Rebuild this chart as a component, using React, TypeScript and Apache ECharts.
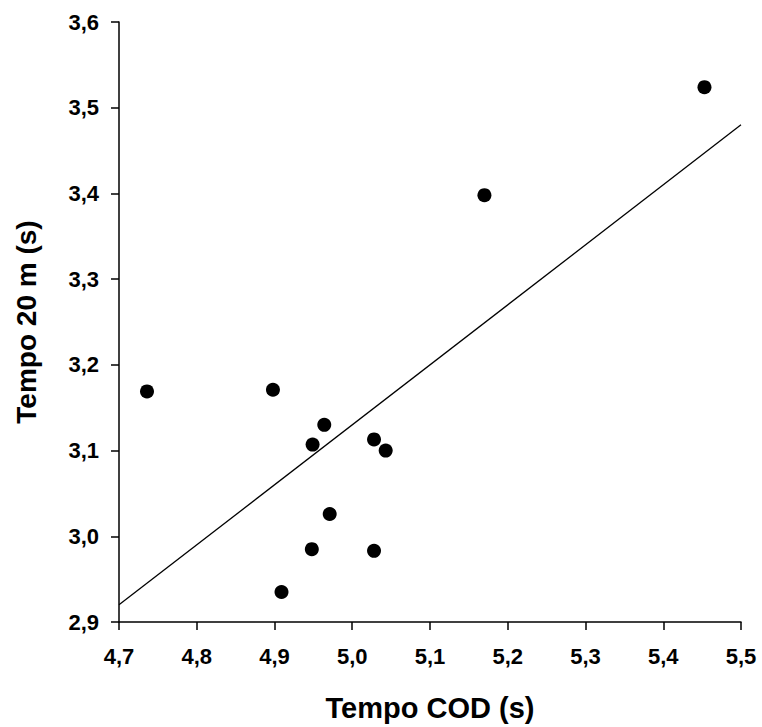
import React, { useEffect, useRef } from "react";
import * as echarts from "echarts";

const tempoCOD = [4.736, 4.898, 4.964, 4.949, 5.028, 5.043, 4.971, 4.948, 5.028, 4.909, 5.17, 5.453];
const tempo20m = [3.169, 3.171, 3.13, 3.107, 3.113, 3.1, 3.026, 2.985, 2.983, 2.935, 3.398, 3.524];
const fitX = [4.7, 5.5];
const fitY = [2.92, 3.48];

export default function App() {
  const ref = useRef<HTMLDivElement>(null);
  useEffect(() => {
    if (!ref.current) return;
    const chart = echarts.init(ref.current, undefined, { renderer: "svg" });
    const fmt = (v: number) => v.toFixed(1).replace(".", ",");
    const axisCommon = {
      axisLine: { show: true, lineStyle: { color: "#000", width: 1.5 } },
      axisTick: { show: true, inside: false, length: 8, lineStyle: { color: "#000", width: 1.5 } },
      splitLine: { show: false },
      nameLocation: "middle" as const,
    };
    const nameStyle = { fontFamily: "Liberation Sans", fontWeight: "bold" as const, color: "#000" };
    const labelStyle = {
      formatter: fmt,
      fontFamily: "Liberation Sans",
      fontWeight: "bold" as const,
      fontSize: 22,
      color: "#000",
    };
    chart.setOption({
      animation: false,
      backgroundColor: "#fff",
      grid: { left: 119, right: 21, top: 22, bottom: 103, containLabel: false },
      xAxis: {
        type: "value",
        min: 4.7,
        max: 5.5,
        interval: 0.1,
        name: "Tempo COD (s)",
        nameGap: 71,
        ...axisCommon,
        nameTextStyle: { ...nameStyle, fontSize: 29 },
        axisLabel: { ...labelStyle, margin: 23 },
      },
      yAxis: {
        type: "value",
        min: 2.9,
        max: 3.6,
        interval: 0.1,
        name: "Tempo 20 m (s)",
        nameGap: 79,
        ...axisCommon,
        nameTextStyle: { ...nameStyle, fontSize: 28 },
        axisLabel: { ...labelStyle, margin: 20 },
      },
      series: [
        {
          type: "line",
          data: fitX.map((x, i) => [x, fitY[i]]),
          symbol: "none",
          lineStyle: { color: "#000", width: 1.3 },
          silent: true,
        },
        {
          type: "scatter",
          data: tempoCOD.map((x, i) => [x, tempo20m[i]]),
          symbol: "circle",
          symbolSize: 14,
          itemStyle: { color: "#000", opacity: 1 },
        },
      ],
    });
    return () => chart.dispose();
  }, []);
  return (
    <div
      ref={ref}
      style={{ position: "fixed", left: 0, top: 0, width: 762, height: 727, background: "#fff" }}
    />
  );
}
